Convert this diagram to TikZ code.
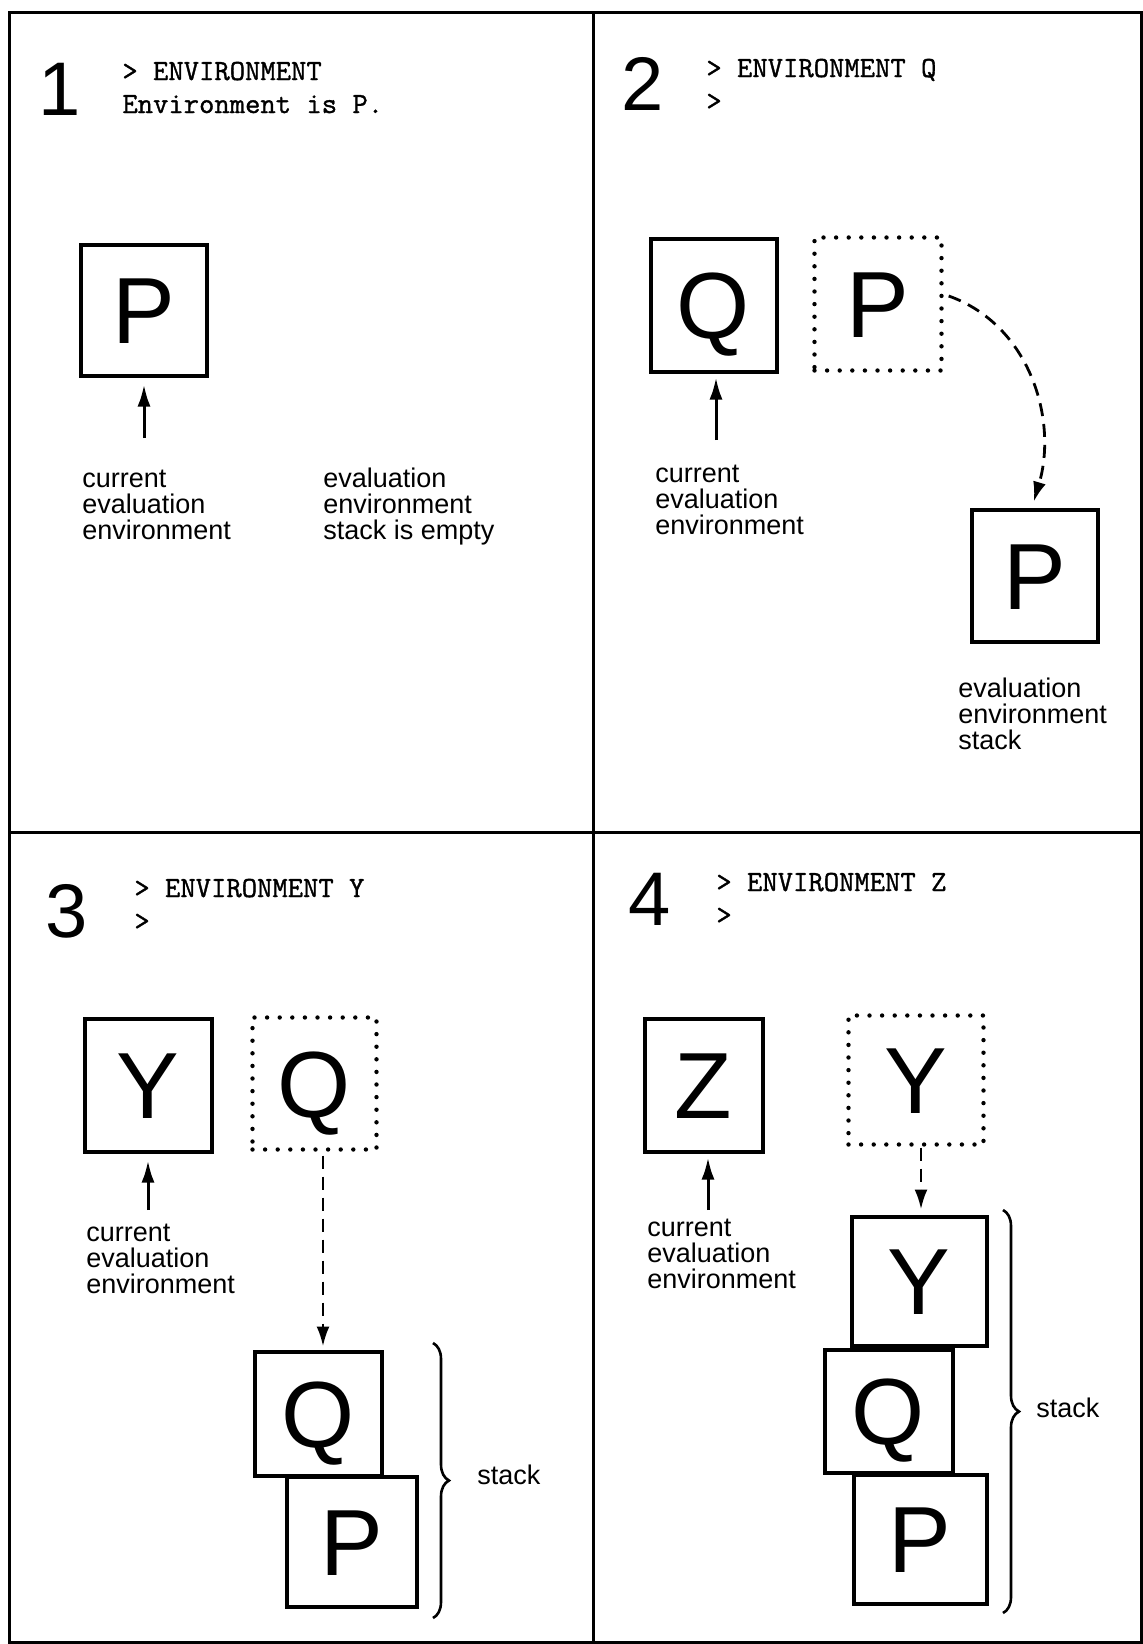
\documentclass[tikz,border=0pt]{standalone}
\usepackage{fontspec}
\setmainfont{Liberation Sans}
\newfontfamily\ttyfont[FakeBold=1.2,FakeStretch=1.02]{Latin Modern Mono}
\usetikzlibrary{arrows.meta,decorations.pathreplacing}
\begin{document}
\begin{tikzpicture}[x=0.5pt,y=-0.5pt,
  frame/.style={line width=1.5pt},
  envbox/.style={draw,line width=2pt,fill=white,inner sep=0pt,
    font=\fontsize{47pt}{47pt}\selectfont,text height=33.7pt,text depth=0pt},
  ghostbox/.style={draw,line width=2.2pt,line cap=round,dash pattern=on 0pt off 6.3pt,
    inner sep=0pt,font=\fontsize{47pt}{47pt}\selectfont,text height=33.7pt,text depth=0pt},
  sz/.style 2 args={minimum width=#1,minimum height=#2},
  pointer/.style={line width=1.5pt,-{Latex[length=11pt,width=6.5pt]}},
  pushed/.style={line width=1.4pt,dash pattern=on 6.5pt off 4pt,-{Latex[length=10pt,width=6.5pt]}},
  % anchored at the baseline of the last line
  captext/.style={align=left,anchor=base west,inner sep=0pt,
    font=\fontsize{13.5pt}{13pt}\selectfont},
  panelno/.style={anchor=base west,inner sep=0pt,font=\fontsize{38pt}{38pt}\selectfont},
  console/.style={align=left,anchor=base west,inner sep=0pt,
    font=\ttyfont\fontsize{14.6pt}{16.5pt}\selectfont},
  stackbrace/.style={decorate,decoration={brace,amplitude=8pt},line width=1.3pt},
]
% page
\fill[white] (0,0) rectangle (1143,1644);

% frame and panel dividers
\draw[frame] (9,12) rectangle (1141,1642);
\draw[frame] (593,12) -- (593,1642);
\draw[frame] (9,832) -- (1141,832);

% ---------- panel 1 ----------
\node[panelno] (n1) at (38,115) {1};
\node[console] (t1) at (122,113) {> ENVIRONMENT\\Environment is P.};
\node[envbox,sz={63pt}{65.5pt}] (p1) at (143.5,310) {P};
\coordinate (c1) at (144,438);
\draw[pointer,shorten >=3.5pt] (c1) -- (c1 |- p1.south);
\node[captext] (l1a) at (82,539) {current\\evaluation\\environment};
\node[captext] (l1b) at (323,539) {evaluation\\environment\\stack is empty};

% ---------- panel 2 ----------
\node[panelno] (n2) at (621,110) {2};
\node[console] (t2) at (706,110) {> ENVIRONMENT Q\\>};
\node[envbox,sz={63pt}{66.5pt}] (q2) at (713.5,305) {Q};
\node[ghostbox,sz={63.5pt}{66.5pt}] (pd2) at (878,304) {P};
\node[envbox,sz={63pt}{66pt}] (ps2) at (1034.5,575.5) {P};
\coordinate (c2) at (716,440);
\draw[pointer,shorten >=2pt] (c2) -- (c2 |- q2.south);
\draw[pushed,shorten >=3pt] ([shift={(5,-8)}]pd2.east)
  .. controls (1030,325) and (1058,420) .. ([xshift=-1.25pt]ps2.north);
\node[captext] (l2a) at (655,534) {current\\evaluation\\environment};
\node[captext] (l2b) at (958,749) {evaluation\\environment\\stack};

% ---------- panel 3 ----------
\node[panelno] (n3) at (45,937) {3};
\node[console] (t3) at (134,930) {> ENVIRONMENT Y\\>};
\node[envbox,sz={63.5pt}{66.5pt}] (y3) at (148,1085) {Y};
\node[ghostbox,sz={62pt}{66pt}] (qd3) at (314.5,1083.5) {Q};
\node[envbox,sz={63.5pt}{62pt}] (qs3) at (318,1413.5) {Q};
\node[envbox,sz={65pt}{65pt}] (ps3) at (351.5,1541.5) {P};
\coordinate (c3) at (148,1210);
\draw[pointer,shorten >=3.5pt] (c3) -- (c3 |- y3.south);
\draw[pushed,shorten <=2pt,shorten >=1.5pt] ([xshift=4.25pt]qd3.south) -- ([xshift=2.5pt]qs3.north);
\node[captext] (l3a) at (86,1293) {current\\evaluation\\environment};
\coordinate (b3t) at (433,1343);
\coordinate (b3b) at (433,1618);
\draw[stackbrace] (b3t) -- (b3b);
\node[captext] (s3) at (477,1484) {stack};

% ---------- panel 4 ----------
\node[panelno] (n4) at (628,925) {4};
\node[console] (t4) at (716,924) {> ENVIRONMENT Z\\>};
\node[envbox,sz={59pt}{66.5pt}] (z4) at (703.5,1085) {Z};
\node[ghostbox,sz={67.5pt}{64.5pt}] (yd4) at (916,1080) {Y};
\node[envbox,sz={67.5pt}{64.5pt}] (ys4) at (919,1281) {Y};
\node[envbox,sz={64pt}{61.5pt}] (qs4) at (888.5,1411) {Q};
\node[envbox,sz={66.5pt}{64.5pt}] (ps4) at (920,1539) {P};
\coordinate (c4) at (708,1210);
\draw[pointer,shorten >=2pt] (c4) -- (c4 |- z4.south);
\draw[pushed,shorten <=0.5pt,shorten >=2.5pt] ([xshift=2.5pt]yd4.south) -- ([xshift=1pt]ys4.north);
\node[captext] (l4a) at (647,1288) {current\\evaluation\\environment};
\coordinate (b4t) at (1003,1210);
\coordinate (b4b) at (1003,1613);
\draw[stackbrace] (b4t) -- (b4b);
\node[captext] (s4) at (1036,1417) {stack};
\end{tikzpicture}
\end{document}
